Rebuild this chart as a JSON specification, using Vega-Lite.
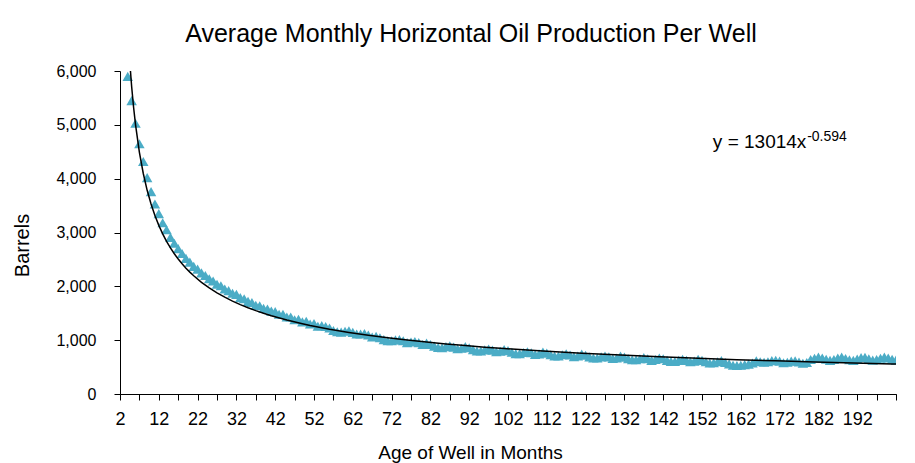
{
  "$schema": "https://vega.github.io/schema/vega-lite/v6.json",
  "width": 776,
  "height": 323,
  "autosize": {"type": "none"},
  "padding": {"left": 120, "top": 71, "right": 19, "bottom": 69},
  "background": "white",
  "config": {"font": "Liberation Sans", "view": {"stroke": null}},
  "title": {"text": "Average Monthly Horizontal Oil Production Per Well", "frame": "group", "anchor": "middle", "dx": -37, "offset": -4, "baseline": "alphabetic", "fontSize": 25, "fontWeight": "normal", "color": "#000000", "font": "Liberation Sans"},
  "resolve": {"axis": {"x": "independent"}},
  "datasets": {
    "obs": [
      {"month": 2, "barrels": 6900}, {"month": 3, "barrels": 6300}, {"month": 4, "barrels": 5900}, {"month": 5, "barrels": 5450}, {"month": 6, "barrels": 5030},
      {"month": 7, "barrels": 4650}, {"month": 8, "barrels": 4320}, {"month": 9, "barrels": 4020}, {"month": 10, "barrels": 3760}, {"month": 11, "barrels": 3530},
      {"month": 12, "barrels": 3350}, {"month": 13, "barrels": 3180}, {"month": 14, "barrels": 3050}, {"month": 15, "barrels": 2910}, {"month": 16, "barrels": 2800},
      {"month": 17, "barrels": 2700}, {"month": 18, "barrels": 2610}, {"month": 19, "barrels": 2520}, {"month": 20, "barrels": 2450}, {"month": 21, "barrels": 2370},
      {"month": 22, "barrels": 2320}, {"month": 23, "barrels": 2250}, {"month": 24, "barrels": 2200}, {"month": 25, "barrels": 2140}, {"month": 26, "barrels": 2100},
      {"month": 27, "barrels": 2040}, {"month": 28, "barrels": 2010}, {"month": 29, "barrels": 1950}, {"month": 30, "barrels": 1920}, {"month": 31, "barrels": 1870},
      {"month": 32, "barrels": 1850}, {"month": 33, "barrels": 1790}, {"month": 34, "barrels": 1770}, {"month": 35, "barrels": 1720}, {"month": 36, "barrels": 1700},
      {"month": 37, "barrels": 1650}, {"month": 38, "barrels": 1640}, {"month": 39, "barrels": 1590}, {"month": 40, "barrels": 1580}, {"month": 41, "barrels": 1540},
      {"month": 42, "barrels": 1530}, {"month": 43, "barrels": 1480}, {"month": 44, "barrels": 1480}, {"month": 45, "barrels": 1430}, {"month": 46, "barrels": 1430},
      {"month": 47, "barrels": 1380}, {"month": 48, "barrels": 1390}, {"month": 49, "barrels": 1340}, {"month": 50, "barrels": 1350}, {"month": 51, "barrels": 1300},
      {"month": 52, "barrels": 1310}, {"month": 53, "barrels": 1260}, {"month": 54, "barrels": 1270}, {"month": 55, "barrels": 1255}, {"month": 56, "barrels": 1225},
      {"month": 57, "barrels": 1180}, {"month": 58, "barrels": 1155}, {"month": 59, "barrels": 1150}, {"month": 60, "barrels": 1165}, {"month": 61, "barrels": 1175},
      {"month": 62, "barrels": 1145}, {"month": 63, "barrels": 1115}, {"month": 64, "barrels": 1115}, {"month": 65, "barrels": 1125}, {"month": 66, "barrels": 1095},
      {"month": 67, "barrels": 1060}, {"month": 68, "barrels": 1070}, {"month": 69, "barrels": 1045}, {"month": 70, "barrels": 1010}, {"month": 71, "barrels": 990},
      {"month": 72, "barrels": 990}, {"month": 73, "barrels": 1005}, {"month": 74, "barrels": 1010}, {"month": 75, "barrels": 990}, {"month": 76, "barrels": 955},
      {"month": 77, "barrels": 965}, {"month": 78, "barrels": 975}, {"month": 79, "barrels": 955}, {"month": 80, "barrels": 920}, {"month": 81, "barrels": 945},
      {"month": 82, "barrels": 920}, {"month": 83, "barrels": 890}, {"month": 84, "barrels": 865}, {"month": 85, "barrels": 860}, {"month": 86, "barrels": 880},
      {"month": 87, "barrels": 895}, {"month": 88, "barrels": 870}, {"month": 89, "barrels": 840}, {"month": 90, "barrels": 850}, {"month": 91, "barrels": 880},
      {"month": 92, "barrels": 860}, {"month": 93, "barrels": 825}, {"month": 94, "barrels": 800}, {"month": 95, "barrels": 800}, {"month": 96, "barrels": 820},
      {"month": 97, "barrels": 835}, {"month": 98, "barrels": 815}, {"month": 99, "barrels": 785}, {"month": 100, "barrels": 795}, {"month": 101, "barrels": 825},
      {"month": 102, "barrels": 805}, {"month": 103, "barrels": 775}, {"month": 104, "barrels": 750}, {"month": 105, "barrels": 750}, {"month": 106, "barrels": 770},
      {"month": 107, "barrels": 785}, {"month": 108, "barrels": 765}, {"month": 109, "barrels": 735}, {"month": 110, "barrels": 745}, {"month": 111, "barrels": 780},
      {"month": 112, "barrels": 760}, {"month": 113, "barrels": 730}, {"month": 114, "barrels": 705}, {"month": 115, "barrels": 705}, {"month": 116, "barrels": 730},
      {"month": 117, "barrels": 745}, {"month": 118, "barrels": 725}, {"month": 119, "barrels": 695}, {"month": 120, "barrels": 705}, {"month": 121, "barrels": 740},
      {"month": 122, "barrels": 720}, {"month": 123, "barrels": 690}, {"month": 124, "barrels": 670}, {"month": 125, "barrels": 670}, {"month": 126, "barrels": 690},
      {"month": 127, "barrels": 705}, {"month": 128, "barrels": 690}, {"month": 129, "barrels": 660}, {"month": 130, "barrels": 670}, {"month": 131, "barrels": 705},
      {"month": 132, "barrels": 685}, {"month": 133, "barrels": 655}, {"month": 134, "barrels": 635}, {"month": 135, "barrels": 635}, {"month": 136, "barrels": 655},
      {"month": 137, "barrels": 675}, {"month": 138, "barrels": 655}, {"month": 139, "barrels": 625}, {"month": 140, "barrels": 640}, {"month": 141, "barrels": 670},
      {"month": 142, "barrels": 655}, {"month": 143, "barrels": 625}, {"month": 144, "barrels": 605}, {"month": 145, "barrels": 605}, {"month": 146, "barrels": 625},
      {"month": 147, "barrels": 645}, {"month": 148, "barrels": 625}, {"month": 149, "barrels": 600}, {"month": 150, "barrels": 610}, {"month": 151, "barrels": 645},
      {"month": 152, "barrels": 625}, {"month": 153, "barrels": 600}, {"month": 154, "barrels": 575}, {"month": 155, "barrels": 580}, {"month": 156, "barrels": 600},
      {"month": 157, "barrels": 620}, {"month": 158, "barrels": 585}, {"month": 159, "barrels": 560}, {"month": 160, "barrels": 535}, {"month": 161, "barrels": 530},
      {"month": 162, "barrels": 535}, {"month": 163, "barrels": 545}, {"month": 164, "barrels": 555}, {"month": 165, "barrels": 575}, {"month": 166, "barrels": 615},
      {"month": 167, "barrels": 600}, {"month": 168, "barrels": 590}, {"month": 169, "barrels": 600}, {"month": 170, "barrels": 620}, {"month": 171, "barrels": 625},
      {"month": 172, "barrels": 610}, {"month": 173, "barrels": 580}, {"month": 174, "barrels": 590}, {"month": 175, "barrels": 610}, {"month": 176, "barrels": 615},
      {"month": 177, "barrels": 595}, {"month": 178, "barrels": 570}, {"month": 179, "barrels": 585}, {"month": 180, "barrels": 640}, {"month": 181, "barrels": 665},
      {"month": 182, "barrels": 685}, {"month": 183, "barrels": 670}, {"month": 184, "barrels": 645}, {"month": 185, "barrels": 625}, {"month": 186, "barrels": 640},
      {"month": 187, "barrels": 670}, {"month": 188, "barrels": 685}, {"month": 189, "barrels": 660}, {"month": 190, "barrels": 635}, {"month": 191, "barrels": 625},
      {"month": 192, "barrels": 650}, {"month": 193, "barrels": 675}, {"month": 194, "barrels": 680}, {"month": 195, "barrels": 655}, {"month": 196, "barrels": 630},
      {"month": 197, "barrels": 640}, {"month": 198, "barrels": 665}, {"month": 199, "barrels": 685}, {"month": 200, "barrels": 670}, {"month": 201, "barrels": 645},
      {"month": 202, "barrels": 630}
    ],
    "trend": [
      {"month": 2, "barrels": 13014}, {"month": 3, "barrels": 8622}, {"month": 4, "barrels": 6776}, {"month": 4.5, "barrels": 6184}, {"month": 5, "barrels": 5712},
      {"month": 5.5, "barrels": 5326}, {"month": 6, "barrels": 5003}, {"month": 7, "barrels": 4489}, {"month": 8, "barrels": 4096}, {"month": 9, "barrels": 3784},
      {"month": 10, "barrels": 3528}, {"month": 11, "barrels": 3314}, {"month": 12, "barrels": 3132}, {"month": 13, "barrels": 2974}, {"month": 14, "barrels": 2836},
      {"month": 15, "barrels": 2714}, {"month": 16, "barrels": 2605}, {"month": 17, "barrels": 2507}, {"month": 18, "barrels": 2419}, {"month": 19, "barrels": 2337},
      {"month": 20, "barrels": 2264}, {"month": 21, "barrels": 2196}, {"month": 23, "barrels": 2075}, {"month": 25, "barrels": 1971}, {"month": 27, "barrels": 1879},
      {"month": 29, "barrels": 1798}, {"month": 31, "barrels": 1726}, {"month": 33, "barrels": 1661}, {"month": 35, "barrels": 1602}, {"month": 37, "barrels": 1549},
      {"month": 39, "barrels": 1500}, {"month": 41, "barrels": 1455}, {"month": 45, "barrels": 1375}, {"month": 49, "barrels": 1306}, {"month": 51, "barrels": 1274},
      {"month": 56, "barrels": 1204}, {"month": 61, "barrels": 1143}, {"month": 66, "barrels": 1090}, {"month": 71, "barrels": 1043}, {"month": 76, "barrels": 1001},
      {"month": 81, "barrels": 964}, {"month": 86, "barrels": 930}, {"month": 91, "barrels": 899}, {"month": 96, "barrels": 870}, {"month": 101, "barrels": 844},
      {"month": 111, "barrels": 798}, {"month": 121, "barrels": 758}, {"month": 131, "barrels": 723}, {"month": 141, "barrels": 691}, {"month": 151, "barrels": 664},
      {"month": 161, "barrels": 638}, {"month": 171, "barrels": 616}, {"month": 181, "barrels": 595}, {"month": 191, "barrels": 576}, {"month": 201, "barrels": 559},
      {"month": 202, "barrels": 557}
    ]
  },
  "layer": [
    {
      "data": {"name": "obs"},
      "mark": {"type": "point", "shape": "triangle-up", "filled": true, "size": 110, "color": "#4BACC6", "opacity": 1, "strokeWidth": 0, "clip": true},
      "encoding": {
        "x": {
          "field": "month", "type": "quantitative",
          "scale": {"domain": [2, 202], "nice": false, "zero": false},
          "axis": {
            "orient": "bottom",
            "values": [2, 12, 22, 32, 42, 52, 62, 72, 82, 92, 102, 112, 122, 132, 142, 152, 162, 172, 182, 192],
            "format": "d",
            "grid": false, "tickSize": 6, "tickColor": "#000000", "domainColor": "#000000",
            "labelFontSize": 18, "labelColor": "#000000", "labelPadding": 10, "labelFlush": false, "labelOverlap": false,
            "title": "Age of Well in Months", "titleFontSize": 19, "titleFontWeight": "normal", "titleColor": "#000000",
            "titleX": 350, "titleY": 64, "titleBaseline": "alphabetic", "titleAlign": "center"
          }
        },
        "y": {
          "field": "barrels", "type": "quantitative",
          "scale": {"domain": [0, 6000], "nice": false},
          "axis": {
            "values": [0, 1000, 2000, 3000, 4000, 5000, 6000],
            "format": ",d",
            "grid": false, "tickSize": 6, "tickColor": "#000000", "domainColor": "#000000",
            "labelFontSize": 16, "labelColor": "#000000", "labelPadding": 18, "labelFlush": false,
            "title": "Barrels", "titleFontSize": 20, "titleFontWeight": "normal", "titleColor": "#000000",
            "titleX": -98, "titleY": 174, "titleAngle": 270, "titleBaseline": "middle", "titleAlign": "center"
          }
        }
      }
    },
    {
      "data": {"name": "trend"},
      "mark": {"type": "line", "color": "#000000", "strokeWidth": 1.5, "clip": true},
      "encoding": {
        "x": {
          "field": "month", "type": "quantitative",
          "axis": {
            "orient": "bottom",
            "values": [7, 17, 27, 37, 47, 57, 67, 77, 87, 97, 107, 117, 127, 137, 147, 157, 167, 177, 187, 197, 202],
            "labels": false, "grid": false, "tickSize": 6, "tickColor": "#000000", "domainColor": "#000000", "title": null
          }
        },
        "y": {"field": "barrels", "type": "quantitative"}
      }
    },
    {
      "data": {"values": [{"eq": "y = 13014x"}]},
      "mark": {"type": "text", "align": "left", "baseline": "alphabetic", "fontSize": 19, "color": "#000000"},
      "encoding": {
        "x": {"datum": 154.8, "type": "quantitative", "axis": null},
        "y": {"datum": 4577, "type": "quantitative"},
        "text": {"field": "eq"}
      }
    },
    {
      "data": {"values": [{"eq": "-0.594"}]},
      "mark": {"type": "text", "align": "left", "baseline": "alphabetic", "fontSize": 14, "color": "#000000"},
      "encoding": {
        "x": {"datum": 179.1, "type": "quantitative", "axis": null},
        "y": {"datum": 4699, "type": "quantitative"},
        "text": {"field": "eq"}
      }
    }
  ]
}
